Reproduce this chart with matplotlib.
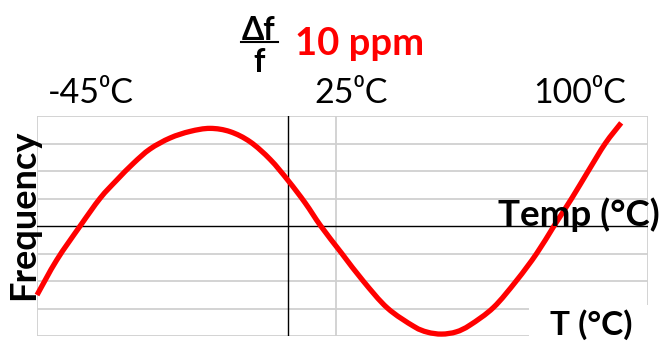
import matplotlib
matplotlib.use("Agg")
import numpy as np
import matplotlib.pyplot as plt
from matplotlib.patches import Rectangle, PathPatch
from matplotlib.path import Path
from matplotlib.lines import Line2D

# ---- data ----
temp = [-49.0, -43.2, -36.3, -30.4, -25.5, -20.6, -15.7, -9.8, -3.9, 2.0, 7.9, 13.8,
        19.7, 25.0, 30.0, 34.6, 40.8, 47.1, 54.2, 62.0, 66.0, 70.2, 74.5, 78.6,
        85.5, 92.3, 98.2, 103.3, 108.5, 113.4, 118.4, 123.1]
freq = [-2.51, -1.24, 0.0, 1.01, 1.67, 2.28, 2.80, 3.20, 3.44, 3.55, 3.43, 3.06,
        2.42, 1.65, 0.84, 0.0, -1.0, -2.0, -2.98, -3.65, -3.86, -3.93, -3.85, -3.6,
        -2.96, -1.98, -1.0, 0.0, 1.0, 2.0, 3.0, 3.75]
h_grid = [-4, -3, -2, -1, 1, 2, 3, 4]
v_grid = [-49, 39, 131]
zero_temp = 25
top_labels = ["-45\u2070C", "25\u2070C", "100\u2070C"]
top_label_x = [91, 351, 580]  # pixel centres

W, H = 661, 346
fig = plt.figure(figsize=(W / 100, H / 100), dpi=100)
fig.patch.set_facecolor("white")
ax = fig.add_axes([37 / W, 1 - 336 / H, (648 - 37) / W, (336 - 116) / H])
ax.set_xlim(-49, 131)
ax.set_ylim(-4, 4)
for s in ax.spines.values():
    s.set_visible(False)
ax.set_xticks([])
ax.set_yticks([])

grid_c = "#d0d0d0"
for y in h_grid:
    ax.axhline(y, color=grid_c, lw=1.3, zorder=1)
for x in v_grid:
    ax.axvline(x, color=grid_c, lw=1.3, zorder=1)
ax.axhline(0, color="black", lw=1.0, zorder=2)
ax.axvline(zero_temp, color="black", lw=1.0, zorder=2)

# smoothed line through the read points (Catmull-Rom -> cubic Bezier)
P = np.column_stack([temp, freq])
Pe = np.vstack([P[0], P, P[-1]])
verts = [tuple(P[0])]
codes = [Path.MOVETO]
for i in range(len(P) - 1):
    p0, p1, p2, p3 = Pe[i], Pe[i + 1], Pe[i + 2], Pe[i + 3]
    c1 = p1 + (p2 - p0) / 6.0
    c2 = p2 - (p3 - p1) / 6.0
    verts += [tuple(c1), tuple(c2), tuple(p2)]
    codes += [Path.CURVE4] * 3
curve = PathPatch(Path(verts, codes), fill=False, edgecolor="#ff0000", lw=3.8,
                  capstyle="butt", joinstyle="round", zorder=3, clip_on=False)
ax.add_patch(curve)

fam = ["Lato", "DejaVu Sans"]

# white box behind bottom-right label
fig.add_artist(Rectangle((529 / W, 0), (W - 529) / W, (346 - 305) / H,
                         transform=fig.transFigure, facecolor="white",
                         edgecolor="none", zorder=5))

def fx(px):
    return px / W

def fy(py):
    return 1 - py / H

fig.text(fx(591), fy(325), "T (\u00b0C)", fontsize=24, fontweight="bold",
         family=fam, ha="center", va="center", zorder=6)
fig.text(fx(579), fy(215), "Temp (\u00b0C)", fontsize=26.5, fontweight="bold",
         family=fam, ha="center", va="center", zorder=6)
fig.text(fx(24), fy(215), "Frequency", fontsize=26, fontweight="bold",
         family=fam, ha="center", va="center", rotation=90, zorder=6)

for lab, px in zip(top_labels, top_label_x):
    fig.text(fx(px), fy(93), lab, fontsize=24.5, family=fam,
             ha="center", va="center", zorder=6)

# title fraction
fig.text(fx(259), fy(30), "\u0394f", fontsize=23, fontweight="bold", family=fam,
         ha="center", va="center", zorder=6)
fig.add_artist(Line2D([fx(241), fx(278)], [fy(42), fy(42)], color="black",
                      lw=1.5, transform=fig.transFigure, zorder=6))
fig.text(fx(259), fy(62), "f", fontsize=23, fontweight="bold", family=fam,
         ha="center", va="center", zorder=6)
fig.text(fx(295), fy(44), "10 ppm", fontsize=27.5, fontweight="bold", family=fam,
         color="#ff0000", ha="left", va="center", zorder=6)

fig.savefig("out.png", dpi=100, facecolor="white")
